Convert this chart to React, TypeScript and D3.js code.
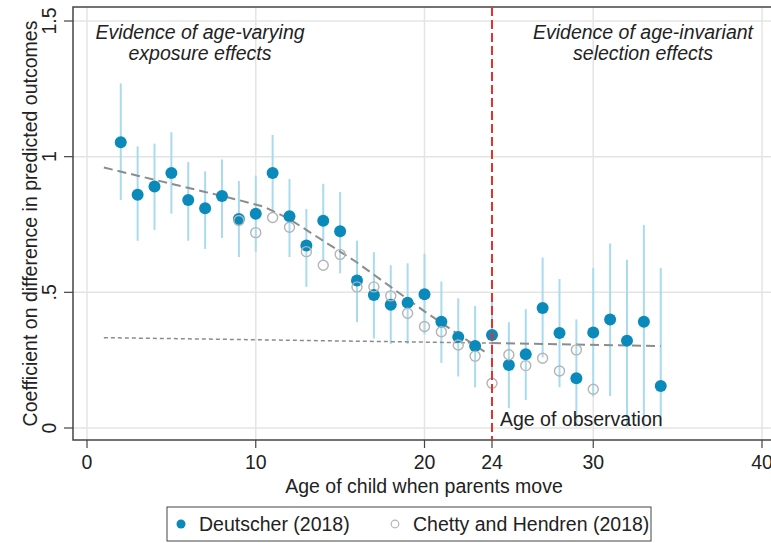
import React, { useRef, useEffect } from 'react'
import * as d3 from 'd3'

// Deutscher (2018) estimates with 95% CI
const dAges = [2, 3, 4, 5, 6, 7, 8, 9, 10, 11, 12, 13, 14, 15, 16, 17, 18, 19, 20, 21, 22, 23, 24, 25, 26, 27, 28, 29, 30, 31, 32, 33, 34]
const dValues = [1.053, 0.86, 0.89, 0.94, 0.84, 0.81, 0.855, 0.77, 0.79, 0.94, 0.78, 0.673, 0.764, 0.725, 0.544, 0.49, 0.454, 0.462, 0.493, 0.392, 0.335, 0.302, 0.343, 0.232, 0.272, 0.442, 0.35, 0.183, 0.352, 0.4, 0.322, 0.392, 0.155]
const dLow = [0.84, 0.69, 0.73, 0.79, 0.69, 0.66, 0.7, 0.63, 0.65, 0.8, 0.63, 0.52, 0.62, 0.57, 0.39, 0.33, 0.31, 0.31, 0.345, 0.24, 0.19, 0.15, 0.2, 0.073, 0.103, 0.26, 0.15, 0.005, 0.115, 0.118, 0.005, 0.005, 0.005]
const dHigh = [1.27, 1.038, 1.048, 1.09, 0.98, 0.946, 0.99, 0.91, 0.93, 1.08, 0.918, 0.807, 0.9, 0.87, 0.69, 0.648, 0.6, 0.607, 0.642, 0.54, 0.478, 0.45, 0.49, 0.39, 0.438, 0.628, 0.549, 0.4, 0.589, 0.68, 0.62, 0.748, 0.589]

// Chetty and Hendren (2018)
const cAges = [9, 10, 11, 12, 13, 14, 15, 16, 17, 18, 19, 20, 21, 22, 23, 24, 25, 26, 27, 28, 29, 30]
const cValues = [0.765, 0.72, 0.776, 0.74, 0.65, 0.6, 0.64, 0.52, 0.52, 0.487, 0.423, 0.374, 0.355, 0.306, 0.265, 0.165, 0.27, 0.23, 0.257, 0.21, 0.288, 0.143]

// fitted lines
const fitAges = [1, 3, 5, 7, 9, 10.5, 12, 14, 16, 18, 20, 22, 23.6]
const fitValues = [0.96, 0.93, 0.9, 0.87, 0.84, 0.815, 0.77, 0.69, 0.61, 0.52, 0.43, 0.345, 0.28]
const flatAges = [24, 34]
const flatValues = [0.313, 0.302]
const extAges = [1, 24]
const extValues = [0.333, 0.313]

const xTicks = [0, 10, 20, 24, 30, 40]
const xGrid = [0, 10, 20, 30, 40]
const yTicks = [0, 0.5, 1, 1.5]
const yTickLabels = ['0', '.5', '1', '1.5']

const FONT = '"Liberation Sans", Arial, Helvetica, sans-serif'
const FS = 19.5

const App = () => {
  const svgRef = useRef<SVGSVGElement>(null)

  useEffect(() => {
    const svg = d3.select(svgRef.current)
    svg.selectAll('*').remove()

    const W = 771
    const H = 543
    const left = 73
    const top = 7
    const bottom = 440

    const x = d3.scaleLinear().domain([0, 40]).range([87, 762])
    const y = d3.scaleLinear().domain([0, 1.5]).range([428, 21])

    svg.append('rect').attr('width', W).attr('height', H).attr('fill', '#fff')

    // grid
    const grid = svg.append('g')
    grid
      .selectAll('.gx')
      .data(xGrid)
      .enter()
      .append('line')
      .attr('x1', (d) => x(d))
      .attr('x2', (d) => x(d))
      .attr('y1', top)
      .attr('y2', bottom)
      .attr('stroke', '#e4e4e4')
      .attr('stroke-width', 1.5)
    grid
      .selectAll('.gy')
      .data(yTicks)
      .enter()
      .append('line')
      .attr('x1', left)
      .attr('x2', W)
      .attr('y1', (d) => y(d))
      .attr('y2', (d) => y(d))
      .attr('stroke', '#e4e4e4')
      .attr('stroke-width', 1.5)

    // frame
    svg
      .append('path')
      .attr('d', `M${W + 5},${top}H${left}V${bottom}H${W + 5}`)
      .attr('fill', 'none')
      .attr('stroke', '#444')
      .attr('stroke-width', 1.5)

    // y axis ticks + labels
    const ya = svg.append('g')
    ya.selectAll('line')
      .data(yTicks)
      .enter()
      .append('line')
      .attr('x1', 64)
      .attr('x2', left)
      .attr('y1', (d) => y(d))
      .attr('y2', (d) => y(d))
      .attr('stroke', '#444')
      .attr('stroke-width', 1.2)
    ya.selectAll('text')
      .data(yTicks)
      .enter()
      .append('text')
      .attr('transform', (d) => `translate(56,${y(d)}) rotate(-90)`)
      .attr('text-anchor', 'middle')
      .attr('font-family', FONT)
      .attr('font-size', FS)
      .attr('fill', '#222')
      .text((d, i) => yTickLabels[i])

    svg
      .append('text')
      .attr('transform', `translate(37,${(top + bottom) / 2}) rotate(-90)`)
      .attr('text-anchor', 'middle')
      .attr('font-family', FONT)
      .attr('font-size', FS)
      .attr('fill', '#222')
      .text('Coefficient on difference in predicted outcomes')

    // x axis ticks + labels
    const xa = svg.append('g')
    xa.selectAll('line')
      .data(xTicks)
      .enter()
      .append('line')
      .attr('x1', (d) => x(d))
      .attr('x2', (d) => x(d))
      .attr('y1', bottom)
      .attr('y2', bottom + 8)
      .attr('stroke', '#444')
      .attr('stroke-width', 1.2)
    xa.selectAll('text')
      .data(xTicks)
      .enter()
      .append('text')
      .attr('x', (d) => x(d))
      .attr('y', 469)
      .attr('text-anchor', 'middle')
      .attr('font-family', FONT)
      .attr('font-size', FS)
      .attr('fill', '#222')
      .text((d) => String(d))

    svg
      .append('text')
      .attr('x', 424)
      .attr('y', 493)
      .attr('text-anchor', 'middle')
      .attr('font-family', FONT)
      .attr('font-size', FS)
      .attr('fill', '#222')
      .text('Age of child when parents move')

    // confidence intervals
    svg
      .append('g')
      .selectAll('line')
      .data(dAges)
      .enter()
      .append('line')
      .attr('x1', (d) => x(d))
      .attr('x2', (d) => x(d))
      .attr('y1', (d, i) => y(dLow[i]))
      .attr('y2', (d, i) => y(dHigh[i]))
      .attr('stroke', '#a9dbee')
      .attr('stroke-width', 2)

    // fitted lines
    const line = d3
      .line<number>()
      .x((d) => x(d))
    svg
      .append('path')
      .attr('d', line.y((d, i) => y(fitValues[i]))(fitAges))
      .attr('fill', 'none')
      .attr('stroke', '#8c8c8c')
      .attr('stroke-width', 2)
      .attr('stroke-dasharray', '9,5')
    svg
      .append('path')
      .attr('d', line.y((d, i) => y(flatValues[i]))(flatAges))
      .attr('fill', 'none')
      .attr('stroke', '#8c8c8c')
      .attr('stroke-width', 2)
      .attr('stroke-dasharray', '9,5')
    svg
      .append('path')
      .attr('d', line.y((d, i) => y(extValues[i]))(extAges))
      .attr('fill', 'none')
      .attr('stroke', '#8c8c8c')
      .attr('stroke-width', 1.5)
      .attr('stroke-dasharray', '4,3')

    // Deutscher points
    svg
      .append('g')
      .selectAll('circle')
      .data(dAges)
      .enter()
      .append('circle')
      .attr('cx', (d) => x(d))
      .attr('cy', (d, i) => y(dValues[i]))
      .attr('r', 6)
      .attr('fill', '#0a8abb')

    // Chetty points
    svg
      .append('g')
      .selectAll('circle')
      .data(cAges)
      .enter()
      .append('circle')
      .attr('cx', (d) => x(d))
      .attr('cy', (d, i) => y(cValues[i]))
      .attr('r', 5)
      .attr('fill', 'none')
      .attr('stroke', '#b4b4b4')
      .attr('stroke-width', 1.4)

    // age of observation
    svg
      .append('line')
      .attr('x1', x(24))
      .attr('x2', x(24))
      .attr('y1', top)
      .attr('y2', bottom)
      .attr('stroke', '#e8302a')
      .attr('stroke-width', 2)
      .attr('stroke-dasharray', '9,4')

    svg
      .append('text')
      .attr('x', 500)
      .attr('y', 426)
      .attr('font-family', FONT)
      .attr('font-size', FS)
      .attr('fill', '#222')
      .text('Age of observation')

    // annotations
    const notes = [
      { cx: 200, lines: ['Evidence of age-varying', 'exposure effects'] },
      { cx: 643, lines: ['Evidence of age-invariant', 'selection effects'] },
    ]
    notes.forEach((n) => {
      n.lines.forEach((t, i) => {
        svg
          .append('text')
          .attr('x', n.cx)
          .attr('y', 39 + i * 21)
          .attr('text-anchor', 'middle')
          .attr('font-family', FONT)
          .attr('font-style', 'italic')
          .attr('font-size', FS)
          .attr('fill', '#222')
          .text(t)
      })
    })

    // legend
    const lg = svg.append('g')
    lg.append('rect')
      .attr('x', 167)
      .attr('y', 507)
      .attr('width', 484)
      .attr('height', 34)
      .attr('fill', '#fff')
      .attr('stroke', '#444')
      .attr('stroke-width', 1)
    lg.append('circle').attr('cx', 181).attr('cy', 524).attr('r', 4.5).attr('fill', '#0a8abb')
    lg.append('text')
      .attr('x', 199)
      .attr('y', 531)
      .attr('font-family', FONT)
      .attr('font-size', FS)
      .attr('fill', '#222')
      .text('Deutscher (2018)')
    lg.append('circle')
      .attr('cx', 395)
      .attr('cy', 524)
      .attr('r', 3.8)
      .attr('fill', 'none')
      .attr('stroke', '#b4b4b4')
      .attr('stroke-width', 1.2)
    lg.append('text')
      .attr('x', 413)
      .attr('y', 531)
      .attr('font-family', FONT)
      .attr('font-size', FS)
      .attr('fill', '#222')
      .text('Chetty and Hendren (2018)')
  }, [])

  return (
    <div style={{ position: 'absolute', left: 0, top: 0, width: 771, height: 543 }}>
      <svg ref={svgRef} width={771} height={543} style={{ display: 'block' }} />
    </div>
  )
}

export default App
